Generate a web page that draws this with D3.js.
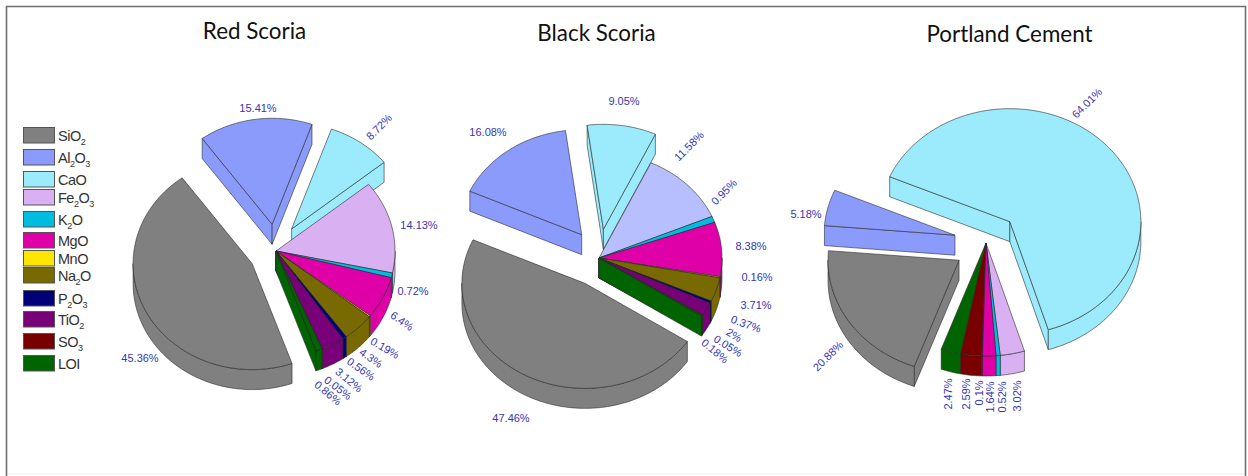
<!DOCTYPE html>
<html><head><meta charset="utf-8">
<script src="https://cdn.jsdelivr.net/npm/d3@7"></script>
<style>html,body{margin:0;padding:0;background:#fff}svg{display:block}</style></head>
<body><svg id="c" width="1248" height="476"></svg>
<script>
const categories = ["SiO2","Al2O3","CaO","Fe2O3","K2O","MgO","MnO","Na2O","P2O3","TiO2","SO3","LOI"];
const redScoria     = [45.36,15.41,8.72,14.13,0.72,6.4,0.19,4.3,0.56,3.12,0.05,0.86];
const blackScoria   = [47.46,16.08,9.05,11.58,0.95,8.38,0.16,3.71,0.37,2,0.05,0.18];
const portlandCement= [20.88,5.18,64.01,3.02,0.52,1.64,0,0,0,0.1,2.59,2.47];
const titles = ["Red Scoria","Black Scoria","Portland Cement"];

const colors = ["#808080","#8b9bfb","#9bebfd","#d9b0f1","#00bde0","#e000a8","#ffe600","#786a00","#000078","#780078","#780000","#006400"];
const black_fe = "#b8bfff";

// layout (not data)
const layouts = [
 {cx:276,cy:251,rx:119,ry:106,depth:20,explode:27,start:160.4,title:[254.5,31],fe:null,
  exploded:[0,1,2],
  labels:[[140,358,0],[258,108,0],[379,127,-45],[419,225,0],[413,291,0],[402,321,35],[385,348,30],[371,358,35],[361,369,35],[349,380,40],[338,388,38],[328,393,40]]},
 {cx:599,cy:258,rx:123,ry:105,depth:20,explode:29,start:123.6,title:[596.5,33],fe:black_fe,
  exploded:[0,1,2],
  labels:[[511,418,0],[488,132,0],[624,101,0],[689,146,-45],[724,192,-45],[751,246,0],[757,277,0],[756,305,0],[746,324,20],[734,335,30],[728,346,32],[715,351,40]]},
 {cx:986,cy:243,rx:131,ry:113,depth:20,explode:32,start:200,title:[1009.5,34],fe:null,
  exploded:[0,1,2],
  labels:[[828,356,-45],[806,214,0],[1087,103,-45],[1017,396,-90],[1002,397,-90],[990,397,-90],null,null,null,[979,393,-90],[966,394,-90],[948,394,-90]]}
];
const datasets = [redScoria,blackScoria,portlandCement];

const svg = d3.select("#c");
// frame: strong on three sides, barely visible along the bottom
svg.append("line").attr("x1",6.5).attr("x2",1245.5).attr("y1",474).attr("y2",474)
  .attr("stroke","#efefef").attr("stroke-width",1);
svg.append("path").attr("d","M6.5,476V6.5H1245.5V476").attr("fill","none")
  .attr("stroke","#6f6f6f").attr("stroke-width",1.6);

function drawPie(values, L){
  const pie = d3.pie().sort(null).value(d=>d)
    .startAngle(L.start*Math.PI/180).endAngle(L.start*Math.PI/180+2*Math.PI);
  const arcs = pie(values).map((a,i)=>({...a,i})).filter(a=>a.value>0);
  const sx = d3.scaleLinear().domain([-1,1]).range([-L.rx,L.rx]);
  const sy = d3.scaleLinear().domain([-1,1]).range([-L.ry,L.ry]);
  const P = (t,r=1)=>[sx(r*Math.sin(t)), sy(-r*Math.cos(t))];
  const arcPts = (a0,a1)=>{const n=Math.max(2,Math.ceil((a1-a0)/0.02));
    return d3.range(n+1).map(k=>P(a0+(a1-a0)*k/n));};
  const line = d3.line();
  const g = svg.append("g").attr("transform",`translate(${L.cx},${L.cy})`);
  const order = arcs.map(a=>{
    const mid=(a.startAngle+a.endAngle)/2;
    a.off = L.exploded.includes(a.i)?[L.explode*Math.sin(mid),-L.explode*Math.cos(mid)]:[0,0];
    a.key = -Math.cos(mid)*L.ry+a.off[1];
    return a;}).sort((p,q)=>p.key-q.key);
  order.forEach(a=>{
    const col = (a.i===3 && L.fe)?L.fe:colors[a.i];
    const s = g.append("g").attr("transform",`translate(${a.off[0]},${a.off[1]})`)
      .attr("fill",col).attr("stroke","#2b2b2b").attr("stroke-width",0.6).attr("stroke-linejoin","round");
    const d=L.depth, t0=a.startAngle, t1=a.endAngle;
    const wall = pts=>pts.concat(pts.slice().reverse().map(p=>[p[0],p[1]+d]));
    if(Math.sin(t0)<0) s.append("path").attr("d",line(wall([[0,0],P(t0)]))+"Z");
    if(Math.sin(t1)>0) s.append("path").attr("d",line(wall([[0,0],P(t1)]))+"Z");
    // outer rim, visible where the rim faces the viewer (|t|>90deg)
    for(let k=-1;k<=3;k++){
      const lo=Math.max(t0,Math.PI/2+2*k*Math.PI), hi=Math.min(t1,3*Math.PI/2+2*k*Math.PI);
      if(hi>lo) s.append("path").attr("d",line(wall(arcPts(lo,hi)))+"Z");
    }
    const pts=[[0,0],...arcPts(t0,t1)];
    s.append("path").attr("d",line(pts)+"Z");
  });
  // title
  svg.append("text").attr("x",L.title[0]).attr("y",L.title[1]).attr("dy","0.35em")
    .attr("text-anchor","middle").attr("font-family","Lato, 'Open Sans', sans-serif")
    .attr("font-size",22.4).attr("fill","#111").text(L.name);
  // labels
  values.forEach((v,i)=>{
    const p=L.labels[i]; if(!p||!(v>0)) return;
    svg.append("text").attr("transform",`translate(${p[0]},${p[1]}) rotate(${p[2]})`)
      .attr("text-anchor","middle").attr("dy","0.35em")
      .attr("font-family","'Liberation Sans',Arial,sans-serif").attr("font-size",11)
      .attr("fill","#3535b5").text(v+"%");
  });
}
layouts.forEach((L,i)=>{L.name=titles[i];drawPie(datasets[i],L);});

// legend
const legendTops = [127,149,171,189,211,232,250,267,290,311,333,355];
const lg = svg.append("g");
categories.forEach((c,i)=>{
  lg.append("rect").attr("x",23.5).attr("y",legendTops[i]+.5).attr("width",31).attr("height",15.5)
    .attr("fill",colors[i]).attr("stroke","#555").attr("stroke-width",1);
  const t=lg.append("text").attr("x",58).attr("y",legendTops[i]+13.5)
    .attr("font-family","'Liberation Sans',Arial,sans-serif").attr("font-size",14.5)
    .attr("letter-spacing",-0.5).attr("fill","#333");
  c.split(/(\d)/).forEach(part=>{
    if(!part) return;
    const ts=t.append("tspan").text(part);
    if(/\d/.test(part)) ts.attr("font-size",9).attr("dy",4);
    else if(t.selectAll("tspan").size()>1) ts.attr("dy",-4);
  });
});
</script></body></html>
